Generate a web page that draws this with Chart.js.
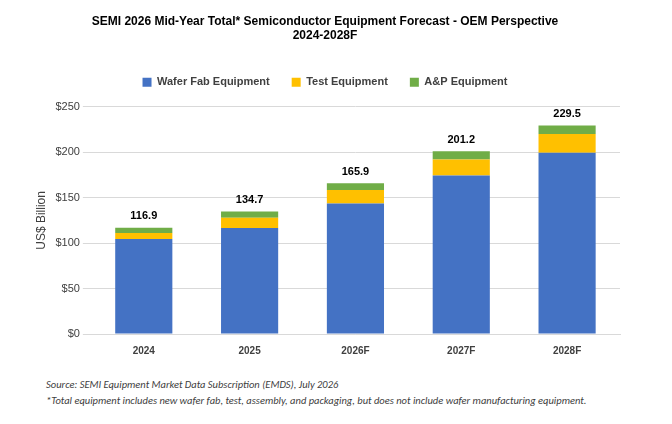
<!DOCTYPE html>
<html><head><meta charset="utf-8">
<script src="https://cdn.jsdelivr.net/npm/chart.js@4"></script>
<style>
body{margin:0;background:#fff;font-family:Calibri,Carlito,"Liberation Sans",Arial,sans-serif;}
#wrap{position:relative;width:672px;height:424px;}
#c{position:absolute;left:0;top:0;}
.note{position:absolute;left:46px;font-size:10.5px;font-style:italic;color:#404040;}
</style></head><body>
<div id="wrap">
<canvas id="c" width="672" height="360"></canvas>
<div class="note" style="top:378px">Source: SEMI Equipment Market Data Subscription (EMDS), July 2026</div>
<div class="note" style="top:394px">*Total equipment includes new wafer fab, test, assembly, and packaging, but does not include wafer manufacturing equipment.</div>
</div>
<script>
const years = ['2024', '2025', '2026F', '2027F', '2028F'];
const waferFab = [104.5, 116.5, 143.5, 174.5, 199.5];
const testEq = [6.5, 11.5, 15.0, 17.5, 20.5];
const apEq = [5.9, 6.7, 7.4, 9.2, 9.5];
const totals = [116.9, 134.7, 165.9, 201.2, 229.5];

const totalLabels = {
  id: 'totalLabels',
  afterDatasetsDraw(chart) {
    const ctx = chart.ctx, meta = chart.getDatasetMeta(2);
    ctx.save();
    ctx.font = 'bold 11px "Liberation Sans", Arial, sans-serif';
    ctx.fillStyle = '#000';
    ctx.textAlign = 'center';
    ctx.textBaseline = 'bottom';
    meta.data.forEach((bar, i) => ctx.fillText(totals[i].toFixed(1), bar.x, bar.y - 6));
    ctx.restore();
  }
};

const legendGap = {
  id: 'legendGap',
  beforeInit(chart) {
    const fit = chart.legend.fit;
    chart.legend.fit = function () { fit.bind(chart.legend)(); this.height += 9; };
  }
};

new Chart(document.getElementById('c'), {
  type: 'bar',
  data: {
    labels: years,
    datasets: [
      { label: 'Wafer Fab Equipment', data: waferFab, backgroundColor: '#4472C4' },
      { label: 'Test Equipment', data: testEq, backgroundColor: '#FFC000' },
      { label: 'A&P Equipment', data: apEq, backgroundColor: '#70AD47' }
    ]
  },
  options: {
    responsive: false,
    animation: false,
    layout: { padding: { left: 30, right: 52, top: 4, bottom: 0 } },
    datasets: { bar: { categoryPercentage: 0.54, barPercentage: 1 } },
    scales: {
      x: { stacked: true, grid: { display: false }, border: { color: '#d9d9d9' },
           ticks: { color: '#404040', font: { size: 10, weight: 'bold' } } },
      y: { stacked: true, min: 0, max: 250,
           ticks: { stepSize: 50, color: '#404040', font: { size: 11 }, callback: v => '$' + v },
           grid: { color: '#d9d9d9' }, border: { display: false },
           title: { display: true, text: 'US$ Billion', color: '#404040', font: { size: 12 } } }
    },
    plugins: {
      title: { display: true, text: ['SEMI 2026 Mid-Year Total* Semiconductor Equipment Forecast - OEM Perspective', '2024-2028F'],
               color: '#000', font: { size: 12, weight: 'bold' }, padding: { top: 10, bottom: 12 } },
      legend: { labels: { color: '#404040', boxWidth: 9, boxHeight: 9, font: { size: 11, weight: 'bold' }, padding: 22 } },
      tooltip: { enabled: false }
    }
  },
  plugins: [totalLabels, legendGap]
});
</script>
</body></html>
